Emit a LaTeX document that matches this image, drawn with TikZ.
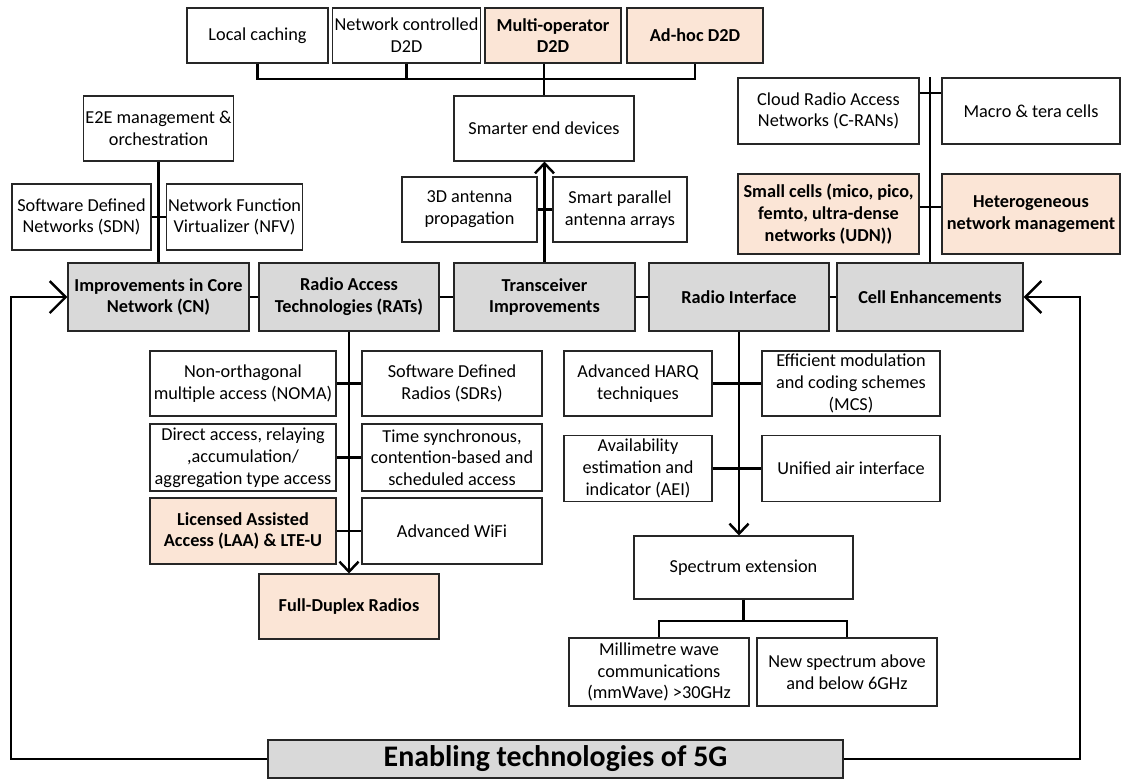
\documentclass[tikz,border=0pt]{standalone}
\usepackage{fontspec}
\setmainfont{Carlito}
\usepackage{xcolor}
\usepackage{tikz}
\usetikzlibrary{arrows.meta}

\definecolor{hdrgray}{HTML}{D9D9D9}
\definecolor{peach}{HTML}{FBE5D6}

\tikzset{
  box/.style={draw=black!85, line width=0.6pt, fill=white, align=center, inner sep=1pt,
    font=\fontsize{10.4}{12.4}\selectfont},
  wh/.style 2 args={minimum width=#1*0.02cm, minimum height=#2*0.02cm},
  mainbox/.style={box, fill=hdrgray, font=\fontsize{10.4}{12.4}\selectfont\bfseries},
  hotbox/.style={box, fill=peach, font=\fontsize{10.4}{12.4}\selectfont\bfseries},
  link/.style={line width=1.4pt},
  tip/.style={-{Straight Barb[length=0.2cm,width=0.38cm]}},
  bigtip/.style={-{Straight Barb[length=0.32cm,width=0.64cm]}}
}

\begin{document}
\begin{tikzpicture}[x=0.02cm, y=-0.02cm]
\useasboundingbox (0,0) rectangle (1122,779);

% Device to device options
\node[box, wh={141}{55}] (cache) at (257.5,35.5) {Local caching};
\node[box, wh={147}{55}] (ncd2d) at (406.5,35.5) {Network controlled\\D2D};
\node[hotbox, wh={136}{55}] (mod2d) at (553,35.5) {Multi-operator\\D2D};
\node[hotbox, wh={136}{55}] (adhoc) at (695,35.5) {Ad-hoc D2D};
\node[box, wh={180}{65}] (smart) at (544,128.5) {Smarter end devices};

% Core network options
\node[box, wh={149}{65}] (e2e) at (158.5,128.5) {E2E management \&\\orchestration};
\node[box, wh={139}{66}] (sdn) at (81.5,217) {Software Defined\\Networks (SDN)};
\node[box, wh={135}{66}] (nfv) at (234.5,217) {Network Function\\Virtualizer (NFV)};

% Antenna options
\node[box, wh={135}{65}] (ant) at (469.5,209.5) {3D antenna\\propagation};
\node[box, wh={134}{65}] (spa) at (620,209.5) {Smart parallel\\antenna arrays};

% Cell options
\node[box, wh={181}{66}] (cran) at (828.5,111) {Cloud Radio Access\\Networks (C-RANs)};
\node[box, wh={178}{66}] (macro) at (1031,111) {Macro \& tera cells};
\node[hotbox, wh={181}{80}] (small) at (828.5,214) {Small cells (mico, pico,\\femto, ultra-dense\\networks (UDN))};
\node[hotbox, wh={178}{80}] (hetnet) at (1031,214) {Heterogeneous\\network management};

% Main row
\node[mainbox, wh={181}{68}] (cn) at (158.5,297) {Improvements in Core\\Network (CN)};
\node[mainbox, wh={180}{68}] (rat) at (349,297) {Radio Access\\Technologies (RATs)};
\node[mainbox, wh={181}{68}] (trx) at (544.5,297) {Transceiver\\Improvements};
\node[mainbox, wh={180}{68}] (ri) at (739,297) {Radio Interface};
\node[mainbox, wh={186}{68}] (cell) at (930,297) {Cell Enhancements};

% Access technologies
\node[box, wh={186}{65}] (noma) at (243,383.5) {Non-orthagonal\\multiple access (NOMA)};
\node[box, wh={180}{65}] (sdr) at (452,383.5) {Software Defined\\Radios (SDRs)};
\node[box, wh={186}{67}] (direct) at (243,457.5) {Direct access, relaying\\,accumulation/\\aggregation type access};
\node[box, wh={180}{67}] (tsync) at (452,457.5) {Time synchronous,\\contention-based and\\scheduled access};
\node[hotbox, wh={186}{66}] (laa) at (243,531) {Licensed Assisted\\Access (LAA) \& LTE-U};
\node[box, wh={180}{66}] (wifi) at (452,531) {Advanced WiFi};
\node[hotbox, wh={180}{65}] (fdr) at (349,606.5) {Full-Duplex Radios};

% Radio interface options
\node[box, wh={148}{65}] (harq) at (638,383.5) {Advanced HARQ\\techniques};
\node[box, wh={178}{65}] (mcs) at (851,383.5) {Efficient modulation\\and coding schemes\\(MCS)};
\node[box, wh={148}{66}] (aei) at (638,468.5) {Availability\\estimation and\\indicator (AEI)};
\node[box, wh={178}{66}] (uai) at (851,468.5) {Unified air interface};
\node[box, wh={219}{63}] (spec) at (743.5,567.5) {Spectrum extension};
\node[box, wh={180}{68}] (mmw) at (659,672) {Millimetre wave\\communications\\(mmWave) >30GHz};
\node[box, wh={180}{68}] (newsp) at (847,672) {New spectrum above\\and below 6GHz};

% Title
\node[mainbox, wh={575}{38}, font=\fontsize{17}{20}\selectfont\bfseries] (title) at (555.5,759) {Enabling technologies of 5G};

% Top bus
\coordinate (topbus) at (544,79);
\draw[link] (cache.south) |- (topbus) -| (adhoc.south);
\draw[link] (ncd2d.south) -- (ncd2d.south |- topbus);
\draw[link] (topbus |- mod2d.south) -- (smart.north);

% Branches from main row
\draw[link] (e2e.south) -- (cn.north);
\draw[link] (sdn.east) -- (nfv.west);
\draw[link, tip] (trx.north) -- (trx.north |- smart.south);
\draw[link] (ant.east) -- (spa.west);
\draw[link] (cell.north |- cran.north) -- (cell.north);
\draw[link] ([yshift=0.36cm]cran.east) -- ([yshift=0.36cm]macro.west);
\draw[link] ([yshift=0.14cm]small.east) -- ([yshift=0.14cm]hetnet.west);

% Main row links
\draw[link] (cn.east) -- (rat.west);
\draw[link] (rat.east) -- (trx.west);
\draw[link] (trx.east) -- (ri.west);
\draw[link] (ri.east) -- (cell.west);

% Access technologies
\draw[link, tip] (rat.south) -- (fdr.north);
\draw[link] (noma.east) -- (sdr.west);
\draw[link] (direct.east) -- (tsync.west);
\draw[link] (laa.east) -- (wifi.west);

% Radio interface
\draw[link, tip] (ri.south) -- (ri.south |- spec.north);
\draw[link] (harq.east) -- (mcs.west);
\draw[link] (aei.east) -- (uai.west);
\coordinate (specbus) at (743,621);
\draw[link] (spec.south) -- (spec.south |- specbus);
\draw[link] (mmw.north) |- (specbus) -| (newsp.north);

% Feedback loops
\coordinate (fbl) at (11,297);
\coordinate (fbr) at (1080,297);
\draw[link, bigtip] (title.west) -| (fbl) -- (cn.west);
\draw[link, bigtip] (title.east) -| (fbr) -- (cell.east);
\end{tikzpicture}
\end{document}
